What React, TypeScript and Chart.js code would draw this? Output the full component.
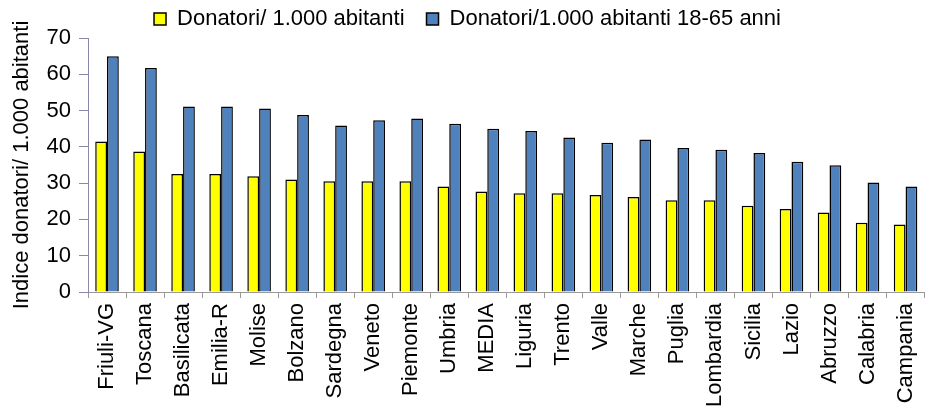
import React, { useEffect, useRef } from "react";
import { Chart, registerables } from "chart.js";

Chart.register(...registerables);

const categories = [
  "Friuli-VG", "Toscana", "Basilicata", "Emilia-R", "Molise", "Bolzano", "Sardegna",
  "Veneto", "Piemonte", "Umbria", "MEDIA", "Liguria", "Trento", "Valle", "Marche",
  "Puglia", "Lombardia", "Sicilia", "Lazio", "Abruzzo", "Calabria", "Campania",
];
const donatoriAbitanti = [
  41.5, 38.7, 32.5, 32.5, 31.9, 31.0, 30.5, 30.5, 30.5, 29.1, 27.7,
  27.2, 27.2, 26.7, 26.2, 25.3, 25.3, 23.8, 22.9, 21.9, 19.1, 18.6,
];
const donatori1865 = [
  65.0, 61.7, 51.1, 51.1, 50.6, 48.8, 45.9, 47.3, 47.8, 46.4, 45.0,
  44.4, 42.6, 41.1, 42.0, 39.7, 39.2, 38.3, 35.9, 34.9, 30.2, 29.1,
];
const seriesLabels = ["Donatori/ 1.000 abitanti", "Donatori/1.000 abitanti 18-65 anni"];
const yTitle = "Indice donatori/ 1.000 abitanti";

const FONT = "'Liberation Sans', Arial, sans-serif";

const legendHeightFix = {
  id: "legendHeightFix",
  beforeInit(chart: any) {
    const legend = chart.legend;
    if (!legend) return;
    const origFit = legend.fit;
    legend.fit = function () {
      origFit.call(this);
      this.height = 52;
    };
  },
};

export default function App() {
  const ref = useRef<HTMLCanvasElement | null>(null);
  useEffect(() => {
    document.body.style.margin = "0";
    if (!ref.current) return;
    const chart = new Chart(ref.current, {
      type: "bar",
      data: {
        labels: categories,
        datasets: [
          {
            label: seriesLabels[0],
            data: donatoriAbitanti,
            backgroundColor: "#ffff00",
            borderColor: "#000000",
            borderWidth: 1.5,
          },
          {
            label: seriesLabels[1],
            data: donatori1865,
            backgroundColor: "#4f81bd",
            borderColor: "#000000",
            borderWidth: 1.5,
          },
        ],
      },
      plugins: [legendHeightFix],
      options: {
        animation: false,
        responsive: false,
        maintainAspectRatio: false,
        layout: { padding: { top: -14, right: 2, left: 0, bottom: 0 } },
        datasets: { bar: { barPercentage: 1, categoryPercentage: 0.62 } },
        plugins: {
          tooltip: { enabled: false },
          legend: {
            position: "top",
            labels: {
              font: { family: FONT, size: 22 },
              color: "#000",
              boxWidth: 12,
              boxHeight: 12,
              padding: 22,
            },
          },
        },
        scales: {
          x: {
            offset: true,
            afterFit: (scale: any) => {
              scale.height = 118;
            },
            grid: {
              display: true,
              offset: true,
              drawOnChartArea: false,
              tickLength: 6,
              color: "#999999",
            },
            border: { color: "#999999", width: 1 },
            ticks: {
              font: { family: FONT, size: 22 },
              color: "#000",
              minRotation: 90,
              maxRotation: 90,
              autoSkip: false,
              padding: 5,
            },
          },
          y: {
            min: 0,
            max: 70,
            afterFit: (scale: any) => {
              scale.width = 88;
            },
            ticks: {
              stepSize: 10,
              font: { family: FONT, size: 22 },
              color: "#000",
              padding: 8,
            },
            grid: {
              display: true,
              drawOnChartArea: false,
              tickLength: 9,
              color: "#8888aa",
            },
            border: { color: "#8888aa", width: 1 },
            title: {
              display: true,
              text: yTitle,
              font: { family: FONT, size: 22 },
              color: "#000",
              padding: { top: 9, bottom: 0 },
            },
          },
        },
      },
    });
    return () => chart.destroy();
  }, []);
  return <canvas ref={ref} width={937} height={410} style={{ display: "block" }} />;
}
